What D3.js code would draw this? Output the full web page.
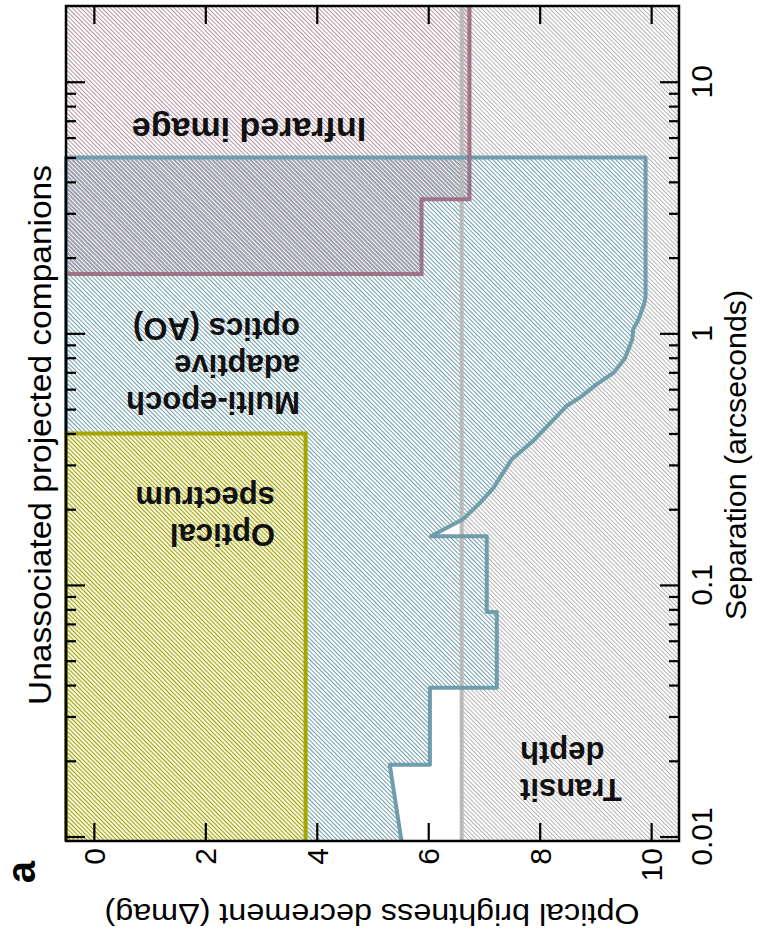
<!DOCTYPE html>
<html>
<head>
<meta charset="utf-8">
<script src="https://cdn.jsdelivr.net/npm/d3@7"></script>
<style>
  body { margin: 0; background: #fff; }
  text { font-family: "Liberation Sans", Arial, Helvetica, sans-serif; }
</style>
</head>
<body>
<div id="chart"></div>
<script>
// 値（Δmag と 離角 arcsec）
const magTicks = [0, 2, 4, 6, 8, 10];
const sepMajor = [0.01, 0.1, 1, 10];
const sepLabels = ["0.01", "0.1", "1", "10"];
const sepMinor = [0.02, 0.03, 0.04, 0.05, 0.06, 0.07, 0.08, 0.09,
                  0.2, 0.3, 0.4, 0.5, 0.6, 0.7, 0.8, 0.9,
                  2, 3, 4, 5, 6, 7, 8, 9];

// AO コントラスト曲線 [sep, dmag]
const aoSep  = [0.0096, 0.0193, 0.0193, 0.039, 0.039, 0.078, 0.078, 0.156, 0.156, 0.183, 0.212, 0.243, 0.316, 0.373, 0.514, 0.555, 0.627, 0.698, 0.79, 0.87, 0.946, 1.04, 1.12, 1.21, 1.32, 1.4, 5.0];
const aoMag  = [5.52, 5.31, 6.03, 6.03, 7.23, 7.23, 7.05, 7.05, 6.05, 6.63, 6.93, 7.17, 7.50, 7.88, 8.48, 8.72, 9.02, 9.33, 9.52, 9.6, 9.66, 9.68, 9.76, 9.82, 9.88, 9.9, 9.9];

// 赤外画像の領域（階段状）
const irSep = [1.72, 1.72, 3.41, 3.41, 20];
const irMag = [-0.5, 5.88, 5.88, 6.74, 6.74];

// 可視スペクトルの領域
const optSepMax = 0.4;
const optMagMax = 3.8;

// トランジット深さ
const transitMag = 6.6;

const sepDomain = [0.0096, 20];
const magDomain = [-0.5, 10.5];

const W = 761, H = 940;
const pLeft = 66, pRight = 679, pTop = 6, pBottom = 841;

const svg = d3.select("#chart").append("svg")
    .attr("width", W)
    .attr("height", H);

const yS = d3.scaleLog().domain(sepDomain).range([pBottom, pTop]);
const xM = d3.scaleLinear().domain(magDomain).range([pLeft, pRight]);

const defs = svg.append("defs");

// ハッチパターン
function hatch(id, color, gap, offset, width, bg) {
    const p = defs.append("pattern")
        .attr("id", id)
        .attr("patternUnits", "userSpaceOnUse")
        .attr("width", gap)
        .attr("height", gap)
        .attr("patternTransform", "rotate(-45)");
    if (bg) p.append("rect").attr("width", gap).attr("height", gap).attr("fill", bg);
    p.append("line")
        .attr("x1", offset).attr("x2", offset)
        .attr("y1", -1).attr("y2", gap + 1)
        .attr("stroke", color)
        .attr("stroke-width", width);
}

const cGray = "#b9b9b9", cBlue = "#6f9dac", cMauve = "#a07488", cYellow = "#a6a600";

hatch("h-gray", "#b4b4b4", 3, 1.5, 1.05, null);
hatch("h-blue", "#6f9dac", 3, 1.5, 1.05, "#fff");
hatch("h-mauve", "#98687e", 3, 0.1, 1.25, null);
hatch("h-yellow", "#a3a300", 3, 1.5, 1.2, "#fff");

const plot = svg.append("g");

// トランジット領域
plot.append("rect")
    .attr("x", xM(transitMag))
    .attr("y", pTop)
    .attr("width", xM(magDomain[1]) - xM(transitMag))
    .attr("height", pBottom - pTop)
    .attr("fill", "url(#h-gray)");

// AO 領域
const aoPts = aoSep.map((s, i) => [aoMag[i], s]);
const aoPoly = [[magDomain[0], sepDomain[0]]].concat(aoPts, [[magDomain[0], 5.0]]);
const line = d3.line().x(d => xM(d[0])).y(d => yS(d[1]));

plot.append("path")
    .attr("d", line(aoPoly) + "Z")
    .attr("fill", "url(#h-blue)");

// 赤外領域
const irPts = irSep.map((s, i) => [irMag[i], s]);
const irPoly = irPts.concat([[magDomain[0], sepDomain[1]]]);
plot.append("path")
    .attr("d", line(irPoly) + "Z")
    .attr("fill", "url(#h-mauve)");

// 可視スペクトル領域
plot.append("rect")
    .attr("x", xM(magDomain[0]))
    .attr("y", yS(optSepMax))
    .attr("width", xM(optMagMax) - xM(magDomain[0]))
    .attr("height", pBottom - yS(optSepMax))
    .attr("fill", "url(#h-yellow)");

// トランジット深さの線
plot.append("line")
    .attr("x1", xM(transitMag)).attr("x2", xM(transitMag))
    .attr("y1", pTop).attr("y2", pBottom)
    .attr("stroke", cGray)
    .attr("stroke-width", 4);

// 輪郭線
plot.append("path")
    .attr("d", line([[magDomain[0], sepDomain[0]]].concat([[magDomain[0], 5.0]], aoPts.slice().reverse())))
    .attr("fill", "none")
    .attr("stroke", cBlue)
    .attr("stroke-width", 4)
    .attr("stroke-linejoin", "round");

plot.append("path")
    .attr("d", line([[magDomain[0], irSep[0]]].concat(irPts)))
    .attr("fill", "none")
    .attr("stroke", cMauve)
    .attr("stroke-width", 4);

plot.append("path")
    .attr("d", line([[magDomain[0], sepDomain[0]], [magDomain[0], optSepMax], [optMagMax, optSepMax], [optMagMax, sepDomain[0]]]))
    .attr("fill", "none")
    .attr("stroke", cYellow)
    .attr("stroke-width", 4);

// 軸（目盛のみ）
function ticks(axis, tr) {
    const g = svg.append("g").attr("transform", tr).call(axis);
    g.select(".domain").remove();
    g.selectAll(".tick line").attr("stroke", "#000").attr("stroke-width", 2.2);
    g.selectAll(".tick text").remove();
}
ticks(d3.axisBottom(xM).tickValues(magTicks).tickSize(-18), `translate(0,${pBottom})`);
ticks(d3.axisTop(xM).tickValues(magTicks).tickSize(-18), `translate(0,${pTop})`);
ticks(d3.axisLeft(yS).tickValues(sepMajor).tickSize(19), `translate(${pRight},0)`);
ticks(d3.axisLeft(yS).tickValues(sepMinor).tickSize(10), `translate(${pRight},0)`);
ticks(d3.axisRight(yS).tickValues(sepMajor).tickSize(19), `translate(${pLeft},0)`);
ticks(d3.axisRight(yS).tickValues(sepMinor).tickSize(10), `translate(${pLeft},0)`);

// 枠
svg.append("rect")
    .attr("x", pLeft).attr("y", pTop)
    .attr("width", pRight - pLeft).attr("height", pBottom - pTop)
    .attr("fill", "none")
    .attr("stroke", "#000")
    .attr("stroke-width", 2.5);

// 目盛ラベル
svg.selectAll(".maglab")
    .data(magTicks)
    .enter()
    .append("text")
    .attr("class", "maglab")
    .attr("transform", d => `translate(${xM(d) + 11},848) rotate(-90)`)
    .attr("text-anchor", "end")
    .attr("font-size", 30)
    .text(d => d);

svg.selectAll(".seplab")
    .data(sepMajor)
    .enter()
    .append("text")
    .attr("class", "seplab")
    .attr("transform", d => `translate(712,${yS(d)}) rotate(-90)`)
    .attr("text-anchor", "middle")
    .attr("font-size", 30)
    .text((d, i) => sepLabels[i]);

// 軸タイトル
svg.append("text")
    .attr("transform", "translate(746,455) rotate(-90)")
    .attr("text-anchor", "middle")
    .attr("font-size", 30)
    .attr("textLength", 330)
    .attr("lengthAdjust", "spacingAndGlyphs")
    .text("Separation (arcseconds)");

svg.append("text")
    .attr("transform", "translate(372,904) rotate(180)")
    .attr("text-anchor", "middle")
    .attr("font-size", 30)
    .attr("textLength", 535)
    .attr("lengthAdjust", "spacingAndGlyphs")
    .text("Optical brightness decrement (\u0394mag)");

svg.append("text")
    .attr("transform", "translate(51,435) rotate(-90)")
    .attr("text-anchor", "middle")
    .attr("font-size", 31)
    .attr("textLength", 540)
    .attr("lengthAdjust", "spacingAndGlyphs")
    .text("Unassociated projected companions");

svg.append("text")
    .attr("transform", "translate(35,872) rotate(-90)")
    .attr("text-anchor", "middle")
    .attr("font-size", 40)
    .attr("font-weight", "bold")
    .text("a");

// 領域ラベル（上下逆さ）
function label(lines, x, y, anchor, size) {
    const t = svg.append("text")
        .attr("transform", `translate(${x},${y}) rotate(180)`)
        .attr("text-anchor", anchor)
        .attr("font-size", size)
        .attr("font-weight", "bold")
        .attr("fill", "#111");
    lines.forEach((s, i) => {
        t.append("tspan").attr("x", 0).attr("dy", i === 0 ? 0 : "1.2em").text(s);
    });
}
label(["Infrared image"], 249, 118, "middle", 34);
label(["Multi-epoch", "adaptive", "optics (AO)"], 300, 392, "start", 31);
label(["Optical", "spectrum"], 275, 524, "start", 31);
label(["Transit", "depth"], 520, 779, "end", 31);
</script>
</body>
</html>
